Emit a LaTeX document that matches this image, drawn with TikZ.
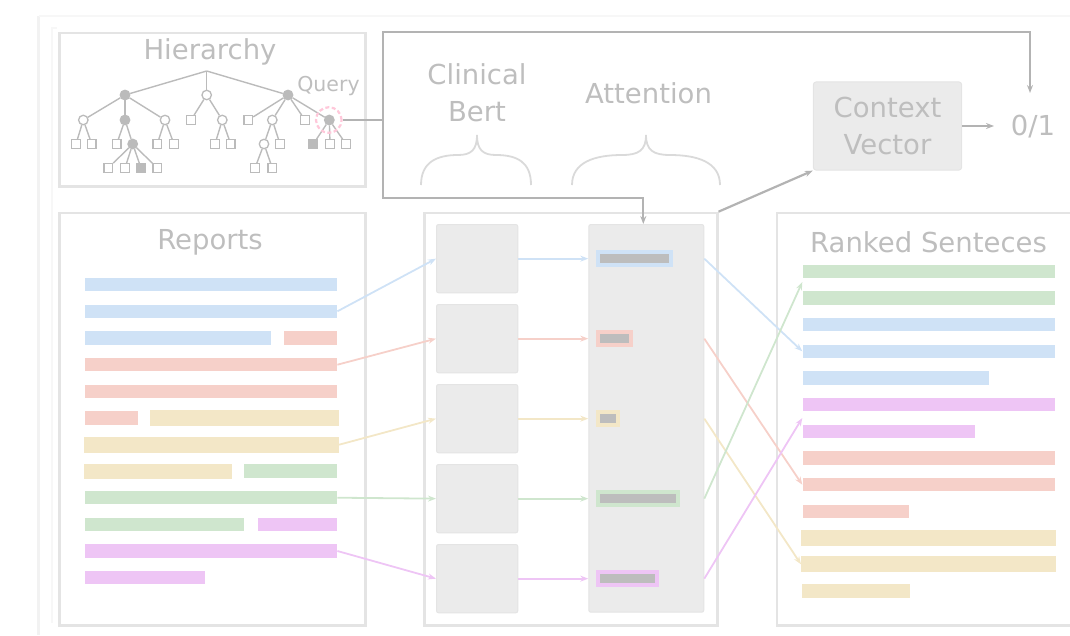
\documentclass[tikz,border=0pt]{standalone}
\usepackage{fontspec}
\newfontfamily\dv{DejaVu Sans}
\usetikzlibrary{arrows.meta,calc}

\definecolor{tcol}{HTML}{BEBEBE}
\definecolor{frame}{HTML}{E4E4E4}
\definecolor{panel}{HTML}{EBEBEB}
\definecolor{tgray}{HTML}{BBBBBB}
\definecolor{cgray}{HTML}{B3B3B3}
\definecolor{bargray}{HTML}{BDBDBD}
\definecolor{cblue}{HTML}{CFE2F6}
\definecolor{cred}{HTML}{F6D0C9}
\definecolor{cyel}{HTML}{F3E7C7}
\definecolor{cgreen}{HTML}{CFE6CE}
\definecolor{cpurp}{HTML}{EEC5F5}
\definecolor{qpink}{HTML}{FFC8DA}

\tikzset{
  lbl/.style={font=\dv\fontsize{27.5}{36.7}\selectfont, text=tcol, inner sep=0pt},
  smalllbl/.style={font=\dv\fontsize{20.5}{24}\selectfont, text=tcol, inner sep=0pt},
  panelbox/.style={draw=frame, line width=2.5pt},
  cell/.style={draw=frame, fill=panel, line width=1pt, rounded corners=2pt, inner sep=0pt},
  tline/.style={draw=tgray, line width=1.4pt},
  ocirc/.style={circle, draw=tgray, fill=white, line width=1.3pt, minimum size=9.5pt, inner sep=0pt},
  fcirc/.style={circle, draw=tgray, fill=tgray, line width=1.3pt, minimum size=9.5pt, inner sep=0pt},
  osq/.style={rectangle, draw=tgray, fill=white, line width=1.3pt, minimum size=8.5pt, inner sep=0pt},
  fsq/.style={rectangle, draw=tgray, fill=tgray, line width=1.3pt, minimum size=8.5pt, inner sep=0pt},
  conn/.style={draw=cgray, line width=2.2pt},
  tip/.style={-{Stealth[length=8pt,width=6pt]}},
  sbar/.style={rectangle, inner sep=0pt, anchor=west, minimum height=13.3pt},
  wire/.style={line width=1.8pt, -{Stealth[length=8pt,width=6pt]}},
  brace/.style={draw=frame!90!gray, line width=1.8pt},
}

\begin{document}
\begin{tikzpicture}[x=1pt,y=-1pt]
\useasboundingbox (0,0) rectangle (1070,635);

% faint page edge
\draw[color=black!5, line width=3pt] (38,635) -- (38,16);
\draw[color=black!3, line width=1.5pt] (39,16) -- (1070,16);
\draw[color=black!3, line width=1.2pt] (52,623) -- (52,28) -- (57,28);

% ---------------- hierarchy panel ----------------
\node[panelbox, minimum width=305.7pt, minimum height=153.3pt, anchor=north west] (hpanel) at (58.3,31.7) {};
\node[lbl, anchor=base] (htitle) at (210,59.3) {Hierarchy};

\coordinate (root) at (206.7,71);
% level 1
\node[fcirc] (h1) at (125,95) {};
\node[ocirc] (h2) at (206.7,95) {};
\node[fcirc] (h3) at (288,95) {};
% level 2
\node[ocirc] (a1) at (83.3,120) {};
\node[fcirc] (a2) at (125,120) {};
\node[ocirc] (a3) at (165,120) {};
\node[osq]   (b1) at (191,120) {};
\node[ocirc] (b2) at (222.3,120) {};
\node[osq]   (c1) at (248.3,120) {};
\node[ocirc] (c2) at (272.3,120) {};
\node[osq]   (c3) at (305,120) {};
\node[fcirc] (q)  at (329.3,120) {};
% level 3
\node[osq] (a11) at (76,144) {};
\node[osq] (a12) at (91.7,144) {};
\node[osq] (a21) at (116.7,144) {};
\node[fcirc] (d) at (132.7,144) {};
\node[osq] (a31) at (157.3,144) {};
\node[osq] (a32) at (174,144) {};
\node[osq] (b21) at (215,144) {};
\node[osq] (b22) at (230.7,144) {};
\node[ocirc] (e) at (264,144) {};
\node[osq] (c21) at (280,144) {};
\node[fsq] (q1) at (313.3,144) {};
\node[osq] (q2) at (330,144) {};
\node[osq] (q3) at (346,144) {};
% level 4
\node[osq] (d1) at (108.3,168) {};
\node[osq] (d2) at (125,168) {};
\node[fsq] (d3) at (141,168) {};
\node[osq] (d4) at (157.3,168) {};
\node[osq] (e1) at (255,168) {};
\node[osq] (e2) at (272.3,168) {};

% tree edges
\foreach \c in {h1,h2,h3} \draw[tline] (root) -- (\c);
\foreach \p/\c in {h1/a1,h1/a2,h1/a3,h2/b1,h2/b2,h3/c1,h3/c2,h3/c3,h3/q,
                   a1/a11,a1/a12,a2/a21,a2/d,a3/a31,a3/a32,b2/b21,b2/b22,
                   c2/e,c2/c21,q/q1,q/q2,q/q3,d/d1,d/d2,d/d3,d/d4,e/e1,e/e2}
  \draw[tline] (\p) -- (\c);

\node[smalllbl, anchor=base] (qlbl) at (328.5,91) {Query};
\node[circle, draw=qpink, dashed, dash pattern=on 4pt off 2.5pt, line width=2.2pt,
      minimum size=25.6pt, inner sep=0pt] (qring) at (328.8,120) {};

% ---------------- top labels and braces ----------------
\node[lbl, align=center] (cb) at (477,93) {Clinical\\Bert};
\node[lbl, anchor=base] (attn) at (648.5,103.3) {Attention};

\coordinate (br1) at (477,135);
\draw[brace] (421,185) .. controls (421,162) and (437,155) .. (458,155)
             .. controls (471,155) and (477,150) .. (br1)
             .. controls (477,150) and (483,155) .. (496,155)
             .. controls (517,155) and (531,162) .. (531,185);
\coordinate (br2) at (646,135);
\draw[brace] (572,185) .. controls (572,162) and (595,155) .. (622,155)
             .. controls (639,155) and (646,150) .. (br2)
             .. controls (646,150) and (653,155) .. (670,155)
             .. controls (697,155) and (720,162) .. (720,185);

% ---------------- context vector ----------------
\node[cell, rounded corners=3pt, minimum width=148.4pt, minimum height=88.3pt, lbl, align=center,
      draw=frame, fill=panel] (ctx) at (887.5,126) {Context\\Vector};
\node[lbl, anchor=base] (zo) at (1033,135.5) {0/1};

% ---------------- middle panel ----------------
\node[panelbox, minimum width=292.7pt, minimum height=412.3pt, anchor=north west] (mid) at (423.3,211.7) {};
\foreach \i/\y in {1/224,2/304,3/384,4/464,5/544}
  \node[cell, minimum width=81.3pt, minimum height=68.3pt, anchor=north west] (bx\i) at (436,\y) {};
\node[cell, minimum width=115pt, minimum height=387.7pt, anchor=north west] (att) at (588.3,224) {};

% attention weights
\foreach \i/\w/\col in {1/76.7/cblue,2/36.7/cred,3/23.3/cyel,4/83.3/cgreen,5/63/cpurp}{
  \node[rectangle, fill=\col, inner sep=0pt, minimum width=\w pt, minimum height=16.7pt, anchor=west] (aw\i) at (596,0 |- bx\i) {};
  \node[rectangle, fill=bargray, inner sep=0pt, minimum width=\w pt-8pt, minimum height=8.7pt, anchor=west] (ag\i) at (600,0 |- bx\i) {};
}

% ---------------- reports panel ----------------
\node[panelbox, minimum width=305.7pt, minimum height=412.3pt, anchor=north west] (rep) at (58.3,211.7) {};
\node[lbl, anchor=base] (reptitle) at (210,249.3) {Reports};

\node[sbar, fill=cblue, minimum width=252pt] (r1) at (85,284.7) {};
\node[sbar, fill=cblue, minimum width=252pt] (r2) at (85,311.3) {};
\node[sbar, fill=cblue, minimum width=185.7pt] (r3a) at (85,338) {};
\node[sbar, fill=cred, minimum width=53pt] (r3b) at (284,338) {};
\node[sbar, fill=cred, minimum width=252pt] (r4) at (85,364.7) {};
\node[sbar, fill=cred, minimum width=252pt] (r5) at (85,391.3) {};
\node[sbar, fill=cred, minimum width=52.7pt] (r6a) at (85,418) {};
\node[sbar, fill=cyel, minimum width=188.3pt, minimum height=15.7pt] (r6b) at (150,418) {};
\node[sbar, fill=cyel, minimum width=255.4pt, minimum height=15.7pt] (r7) at (83.3,444.7) {};
\node[sbar, fill=cyel, minimum width=147.7pt, minimum height=15pt] (r8a) at (84,471) {};
\node[sbar, fill=cgreen, minimum width=93pt] (r8b) at (244,471) {};
\node[sbar, fill=cgreen, minimum width=252pt] (r9) at (85,497.7) {};
\node[sbar, fill=cgreen, minimum width=158.7pt] (r10a) at (85,524.3) {};
\node[sbar, fill=cpurp, minimum width=79.7pt] (r10b) at (257.3,524.3) {};
\node[sbar, fill=cpurp, minimum width=252pt] (r11) at (85,551) {};
\node[sbar, fill=cpurp, minimum width=119.3pt] (r12) at (85,577.7) {};

% ---------------- ranked panel ----------------
\node[panelbox, minimum width=310pt, minimum height=412.3pt, anchor=north west] (rank) at (775.7,211.7) {};
\node[lbl, anchor=base] (ranktitle) at (928.5,252.3) {Ranked Senteces};

\node[sbar, fill=cgreen, minimum width=252.7pt] (k1) at (802.3,271.3) {};
\node[sbar, fill=cgreen, minimum width=252.7pt] (k2) at (802.3,298) {};
\node[sbar, fill=cblue, minimum width=252.7pt] (k3) at (802.3,324.7) {};
\node[sbar, fill=cblue, minimum width=252.7pt] (k4) at (802.3,351.3) {};
\node[sbar, fill=cblue, minimum width=186pt] (k5) at (802.3,378) {};
\node[sbar, fill=cpurp, minimum width=252.7pt] (k6) at (802.3,404.7) {};
\node[sbar, fill=cpurp, minimum width=172.7pt] (k7) at (802.3,431.3) {};
\node[sbar, fill=cred, minimum width=252.7pt] (k8) at (802.3,458) {};
\node[sbar, fill=cred, minimum width=252.7pt] (k9) at (802.3,484.7) {};
\node[sbar, fill=cred, minimum width=106.4pt] (k10) at (802.3,511.3) {};
\node[sbar, fill=cyel, minimum width=255pt, minimum height=15.7pt] (k11) at (801,537.7) {};
\node[sbar, fill=cyel, minimum width=255pt, minimum height=15.7pt] (k12) at (801,564.3) {};
\node[sbar, fill=cyel, minimum width=108.3pt, minimum height=14.3pt] (k13) at (801.3,591) {};

% ---------------- gray connectors ----------------
\coordinate (jn) at (383.3,120);
\coordinate (topr) at (1030,31.7);
\coordinate (topend) at (1030,93);
\coordinate (botl) at (383.3,198.3);
\coordinate (outend) at (994,0);
\draw[conn] (qring.east) -- (jn);
\draw[conn, tip] (jn) |- (topr) -- (topend);
\draw[conn, tip] (jn) -- (botl) -| ([xshift=-3pt]att.north);
\draw[conn, tip] (mid.north east) -- (ctx.south west);
\draw[conn, tip] (ctx.east) -- (ctx.east -| outend);

% ---------------- colored connectors ----------------
\draw[wire, cblue]  (r2.east)  -- (bx1.west);
\draw[wire, cred]   (r4.east)  -- (bx2.west);
\draw[wire, cyel]   (r7.east)  -- (bx3.west);
\draw[wire, cgreen] (r9.east)  -- (bx4.west);
\draw[wire, cpurp]  (r11.east) -- (bx5.west);

\foreach \i/\col in {1/cblue,2/cred,3/cyel,4/cgreen,5/cpurp}
  \draw[wire, \col] (bx\i.east) -- (bx\i.east -| att.west);

\draw[wire, cblue]  (att.east |- aw1) -- (k4.west);
\draw[wire, cred]   (att.east |- aw2) -- (k9.west);
\draw[wire, cyel]   (att.east |- aw3) -- (k12.west);
\draw[wire, cgreen] (att.east |- aw4) -- ($(k1.south west)!0.3!(k2.north west)$);
\draw[wire, cpurp]  (att.east |- aw5) -- ($(k6.south west)!0.5!(k7.north west)$);
\end{tikzpicture}
\end{document}
